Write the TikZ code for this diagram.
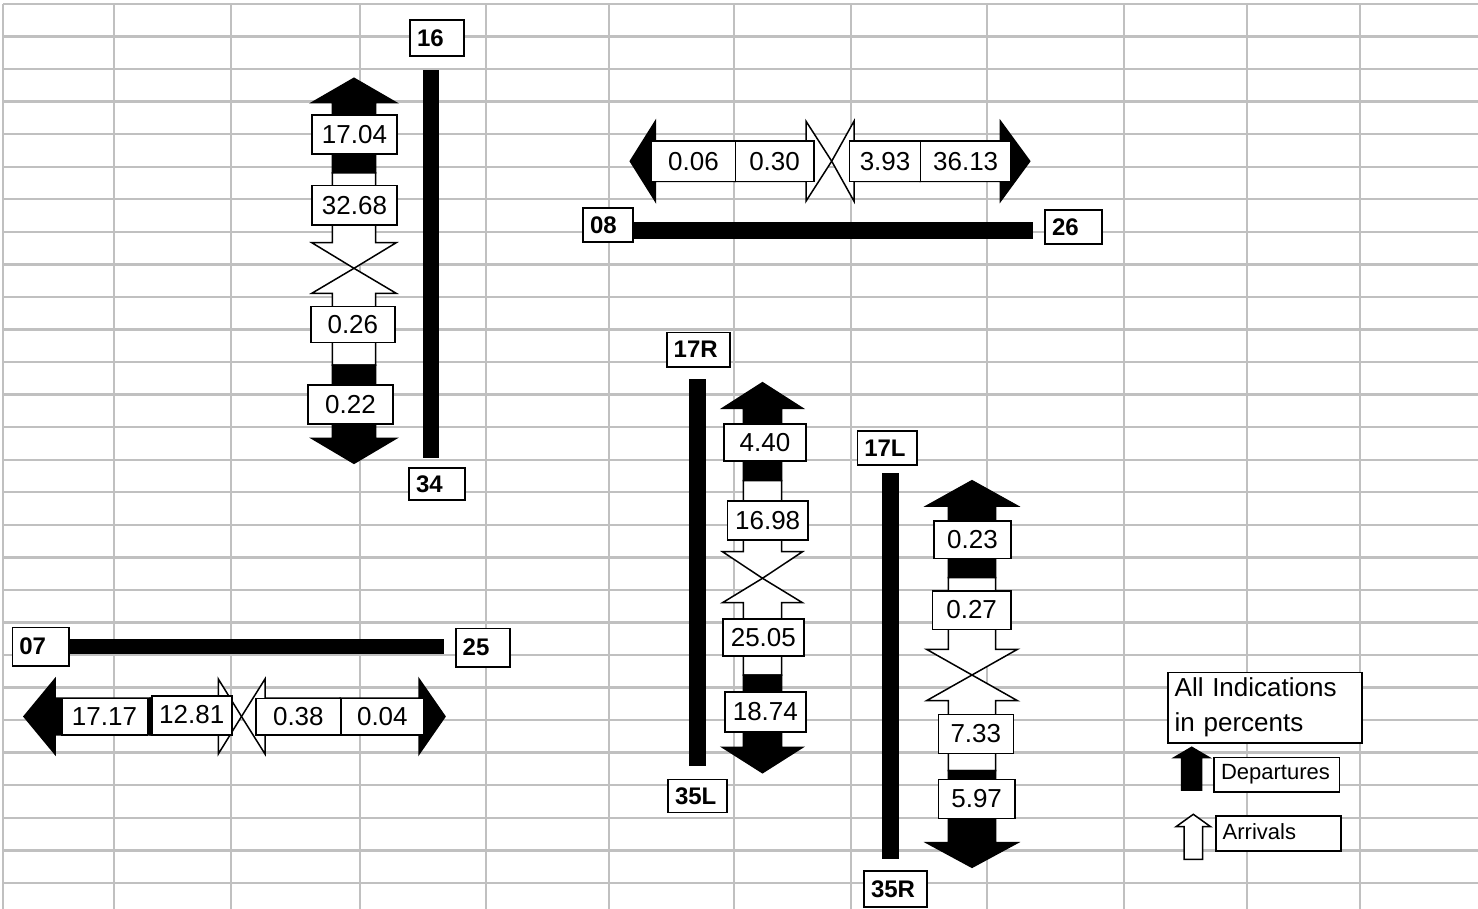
\documentclass[tikz,border=0pt]{standalone}
\usepackage{fontspec}
\setmainfont{Liberation Sans}
\definecolor{gridgray}{RGB}{192,192,192}
% vertical block arrow: fill, xc, ytail, ybase(head), ytip, shaft half width, head half width
\newcommand{\varr}[7]{\draw[blockarrow,fill=#1] ({#2-#6},#3) -- ({#2-#6},#4) -- ({#2-#7},#4) -- (#2,#5) -- ({#2+#7},#4) -- ({#2+#6},#4) -- ({#2+#6},#3) -- cycle;}
% horizontal block arrow: fill, yc, xtail, xbase(head), xtip, shaft half height, head half height
\newcommand{\harr}[7]{\draw[blockarrow,fill=#1] (#3,{#2-#6}) -- (#4,{#2-#6}) -- (#4,{#2-#7}) -- (#5,#2) -- (#4,{#2+#7}) -- (#4,{#2+#6}) -- (#3,{#2+#6}) -- cycle;}
% centred value box: name, x1, y1, x2, y2, text
\newcommand{\valnode}[6]{\pgfmathsetmacro\vW{#4-#2}\pgfmathsetmacro\vH{#5-#3}\node[valbox,minimum width=\vW pt,minimum height=\vH pt] (#1) at ({(#2+#4)/2},{(#3+#5)/2}) {#6};}
% left aligned box: style, name, x1, y1, x2, y2, text
\newcommand{\lnode}[7]{\pgfmathsetmacro\vW{#5-#3}\pgfmathsetmacro\vT{#5-#3-14}\pgfmathsetmacro\vH{#6-#4}\node[#1,minimum width=\vW pt,minimum height=\vH pt,text width=\vT pt] (#2) at ({(#3+#5)/2},{(#4+#6)/2}) {#7};}
\begin{document}
\begin{tikzpicture}[x=1pt,y=-1pt,
  gridline/.style={draw=gridgray,line width=2.4pt},
  blockarrow/.style={draw=black,line width=1.5pt,line join=miter},
  valbox/.style={draw=black,fill=white,line width=1.6pt,inner sep=0pt,font=\fontsize{26}{30}\selectfont},
  lblbox/.style={draw=black,fill=white,line width=1.6pt,inner ysep=0pt,inner xsep=7pt,align=left},
  rwbox/.style={lblbox,font=\fontsize{24}{28}\selectfont\bfseries},
  legbox/.style={lblbox,font=\fontsize{26}{35}\selectfont},
  keybox/.style={lblbox,font=\fontsize{22}{26}\selectfont},
  rwbar/.style={fill=black}]
\useasboundingbox (0,0) rectangle (1478,909);
\fill[white] (0,0) rectangle (1478,909);
% grid
\foreach \x in {3,114,231,360,486,609,734,851,987,1124,1247,1360}
  \draw[gridline] (\x,4) -- (\x,909);
\foreach \k in {0,...,27}
  \draw[gridline] (3,{4+32.55*\k}) -- (1478,{4+32.55*\k});

% ---------- Runway 16/34 ----------
\fill[rwbar] (423,70) rectangle (439,458);
\lnode{rwbox}{l16}{410}{20}{464}{56}{16}
\lnode{rwbox}{l34}{409}{468}{465}{500}{34}
\varr{black}{354}{173}{102.7}{78.3}{21.7}{42.2}
\varr{white}{354}{173}{242.7}{268.3}{21.7}{42.2}
\varr{white}{354}{365}{293.3}{268.3}{21.7}{42.2}
\varr{black}{354}{365}{438.3}{463.3}{21.7}{42.2}
\valnode{v1704}{312}{115}{397}{154}{17.04}
\valnode{v3268}{312}{185.7}{397}{225}{32.68}
\valnode{v026}{310.7}{306.7}{395}{342.7}{0.26}
\valnode{v022}{308}{385}{393}{424}{0.22}

% ---------- Runway 08/26 ----------
\fill[rwbar] (632,222) rectangle (1033,239.3);
\lnode{rwbox}{l08}{583}{208}{633}{242}{08}
\lnode{rwbox}{l26}{1045}{210}{1102}{244}{26}
\harr{black}{161.2}{735}{655.4}{630.3}{20.3}{40}
\harr{white}{161.2}{735}{806}{831.7}{20.3}{40}
\harr{white}{161.2}{920}{854}{831.7}{20.3}{40}
\harr{black}{161.2}{920}{1000.4}{1029.7}{20.3}{40}
\valnode{v006}{651.6}{141}{735.3}{181.5}{0.06}
\valnode{v030}{735.3}{141}{813.8}{181.5}{0.30}
\valnode{v393}{849.6}{141}{920.5}{181.5}{3.93}
\valnode{v3613}{920.5}{141}{1010.8}{181.5}{36.13}

% ---------- Runway 07/25 ----------
\fill[rwbar] (66.7,639) rectangle (444,654.3);
\lnode{rwbox}{l07}{12.3}{627.3}{69}{666}{07}
\lnode{rwbox}{l25}{455.7}{628.3}{510}{666.7}{25}
\harr{black}{716.5}{150}{55}{24}{18.4}{37.5}
\harr{white}{716.5}{150}{218.3}{241.5}{18.4}{37.5}
\harr{white}{716.5}{340}{265}{241.5}{18.4}{37.5}
\harr{black}{716.5}{340}{419}{445}{18.4}{37.5}
\valnode{v1717}{61.7}{698.3}{147.3}{735}{17.17}
\valnode{v1281}{151.7}{696}{231.7}{735}{\raisebox{3pt}{12.81}}
\valnode{v038}{256}{698.3}{340.7}{735}{0.38}
\valnode{v004}{340.7}{698.3}{424}{735}{0.04}

% ---------- Runway 17R/35L ----------
\fill[rwbar] (689.3,379) rectangle (705.7,766);
\lnode{rwbox}{l17R}{666.7}{332.7}{730}{366.7}{17R}
\lnode{rwbox}{l35L}{668}{779.3}{727}{812.5}{35L}
\varr{black}{762.5}{480.7}{408.3}{382.7}{19.2}{40}
\varr{white}{762.5}{480.7}{551.7}{578.3}{19.2}{40}
\varr{white}{762.5}{675}{602.7}{578.3}{19.2}{40}
\varr{black}{762.5}{675}{747.3}{772.7}{19.2}{40}
\valnode{v440}{724}{424}{806}{460.7}{4.40}
\valnode{v1698}{727.3}{500.7}{808}{540}{16.98}
\valnode{v2505}{722.7}{619}{804}{656}{25.05}
\valnode{v1874}{724.7}{691.7}{806}{731.7}{18.74}

% ---------- Runway 17L/35R ----------
\fill[rwbar] (882.3,473.3) rectangle (899,859.3);
\lnode{rwbox}{l17L}{857.3}{431}{916.7}{465}{17L}
\lnode{rwbox}{l35R}{864}{871}{926.7}{907}{35R}
\varr{black}{972}{577.7}{506}{480.7}{23.7}{45.5}
\varr{white}{972}{577.7}{649.3}{675}{23.7}{45.5}
\varr{white}{972}{770.7}{700.7}{675}{23.7}{45.5}
\varr{black}{972}{770.7}{842.7}{867.3}{23.7}{45.5}
\valnode{v023}{934}{521}{1011}{558.3}{0.23}
\valnode{v027}{932.3}{590.7}{1011}{629.3}{0.27}
\valnode{v733}{938.3}{714.3}{1013.3}{753.3}{7.33}
\valnode{v597}{938.3}{779.3}{1015}{818.3}{5.97}

% ---------- Legend ----------
\lnode{legbox}{legend}{1167.7}{672.3}{1361.7}{742.7}{All Indications\\in percents}
\varr{black}{1191.7}{790}{757.7}{747.3}{10}{17.7}
\lnode{keybox}{kdep}{1214}{757.3}{1339.3}{791.7}{Departures}
\varr{white}{1193.3}{859.3}{826.7}{814.3}{9.3}{17.3}
\lnode{keybox}{karr}{1215.7}{816}{1341}{850.7}{\raisebox{3pt}{Arrivals}}
\end{tikzpicture}
\end{document}
